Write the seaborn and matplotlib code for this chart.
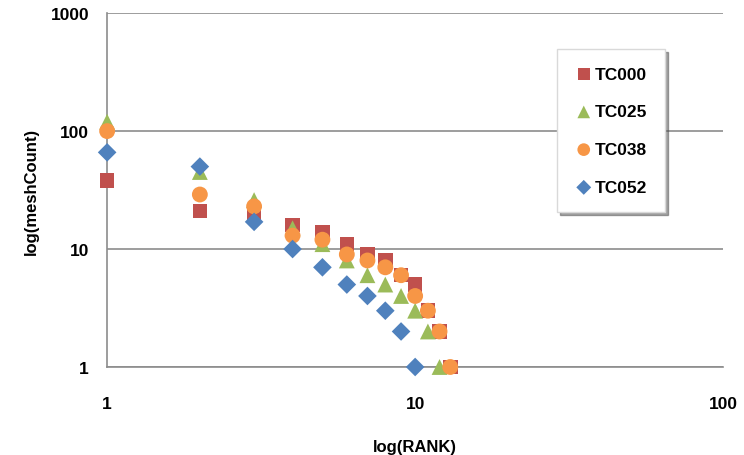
import matplotlib
matplotlib.use("Agg")
import matplotlib.pyplot as plt
import seaborn as sns
import pandas as pd

series_names = ["TC000", "TC025", "TC038", "TC052"]
tc000 = [38, 21, 19, 16, 14, 11, 9, 8, 6, 5, 3, 2, 1]
tc025 = [120, 45, 26, 15, 11, 8, 6, 5, 4, 3, 2, 1]
tc038 = [100, 29, 23, 13, 12, 9, 8, 7, 6, 4, 3, 2, 1]
tc052 = [66, 50, 17, 10, 7, 5, 4, 3, 2, 1]
colors = ["#C0504D", "#9BBB59", "#F79646", "#4F81BD"]
marker_shapes = ["s", "^", "o", "D"]
x_ticks = [1, 10, 100]
y_ticks = [1, 10, 100, 1000]

rows = []
for name, vals in zip(series_names, [tc000, tc025, tc038, tc052]):
    for i, v in enumerate(vals):
        rows.append({"series": name, "rank": i + 1, "count": v})
df = pd.DataFrame(rows)

sns.set_style("white")
plt.rcParams['font.family'] = ['Liberation Sans', 'DejaVu Sans']
plt.rcParams['text.color'] = 'black'
plt.rcParams['axes.labelcolor'] = 'black'
plt.rcParams['xtick.color'] = 'black'
plt.rcParams['ytick.color'] = 'black'

fig = plt.figure(figsize=(7.44, 4.56), dpi=100)
ax = fig.add_axes([0.144, 0.193, 0.828, 0.776])

sizes = {"TC000": 110, "TC025": 130, "TC038": 130, "TC052": 90}
for name, col, mk in zip(series_names, colors, marker_shapes):
    sub = df[df["series"] == name]
    sns.scatterplot(data=sub, x="rank", y="count", ax=ax, color=col, marker=mk,
                    s=sizes[name], edgecolor="none", label=name, zorder=3,
                    clip_on=False)

ax.set_xscale("log")
ax.set_yscale("log")
ax.set_xlim(1, 100)
ax.set_ylim(1, 1000)
ax.set_xticks(x_ticks)
ax.set_xticklabels([str(t) for t in x_ticks])
ax.set_yticks(y_ticks)
ax.set_yticklabels([str(t) for t in y_ticks])
ax.minorticks_off()
ax.yaxis.grid(True, color="#8C8C8C", linewidth=1.2)
ax.xaxis.grid(False)
for s in ["top", "right"]:
    ax.spines[s].set_visible(False)
for s in ["left", "bottom"]:
    ax.spines[s].set_color("#8C8C8C")
    ax.spines[s].set_linewidth(1.2)
ax.tick_params(axis="both", which="major", length=5, width=1.2, color="#8C8C8C",
               labelcolor="black", labelsize=12.5, direction="out")
ax.tick_params(axis="x", pad=16)
ax.tick_params(axis="y", pad=8)
for lab in ax.get_xticklabels() + ax.get_yticklabels():
    lab.set_fontweight("bold")

ax.set_xlabel("log(RANK)", fontsize=12, fontweight="bold", labelpad=20)
ax.set_ylabel("log(meshCount)", fontsize=12, fontweight="bold", labelpad=8)

leg = ax.legend(loc="upper left", bbox_to_anchor=(0.73, 0.898), frameon=True,
                shadow=True, fancybox=False, fontsize=12.5, labelspacing=1.3,
                handletextpad=0.1, borderpad=1.0, borderaxespad=0,
                markerscale=0.8, handlelength=1.1)
leg.get_frame().set_edgecolor("#D9D9D9")
for t in leg.get_texts():
    t.set_fontweight("bold")

fig.savefig("out.png", dpi=100)
